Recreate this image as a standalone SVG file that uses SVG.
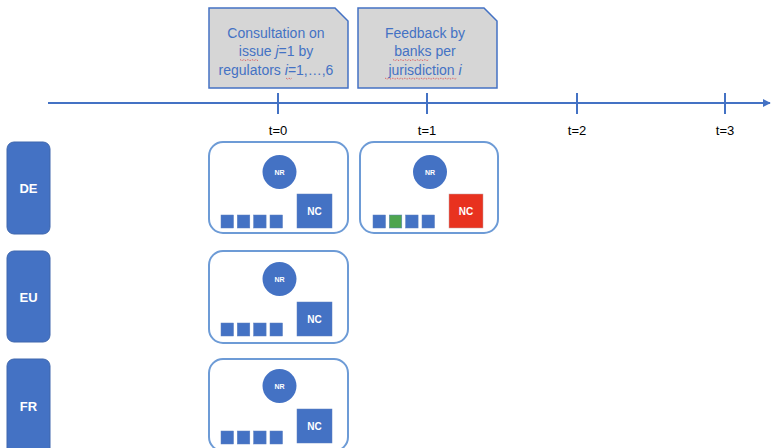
<svg xmlns="http://www.w3.org/2000/svg" width="771" height="448" viewBox="0 0 771 448">
  <style>
    .callout { fill: #d6d6d6; stroke: #4472c4; stroke-width: 1.5; }
    .callout-text { font-family: "Liberation Sans", Arial, sans-serif; font-size: 14px; fill: #4472c4; text-anchor: middle; }
    .tick { stroke: #4472c4; stroke-width: 2; }
    .tick-label { font-family: "Liberation Sans", Arial, sans-serif; font-size: 13px; fill: #000; text-anchor: middle; }
    .row { fill: #4472c4; stroke: #3f67ad; stroke-width: 1; }
    .row-label { font-family: "Liberation Sans", Arial, sans-serif; font-size: 13px; font-weight: bold; fill: #fff; text-anchor: middle; }
    .panel { fill: #fff; stroke: #6d9bd6; stroke-width: 2; }
    .nr { fill: #4472c4; }
    .nr-label { font-family: "Liberation Sans", Arial, sans-serif; font-size: 7px; font-weight: bold; fill: #fff; text-anchor: middle; }
    .nc { fill: #4472c4; stroke: #5b7fc0; stroke-width: 0.5; }
    .nc-red { fill: #e8321f; stroke: #c7a0a0; stroke-width: 0.5; }
    .nc-label { font-family: "Liberation Sans", Arial, sans-serif; font-size: 10px; font-weight: bold; fill: #fff; text-anchor: middle; }
    .bank { fill: #4472c4; stroke: #5b7fc0; stroke-width: 0.5; }
    .bank-green { fill: #4ea54f; stroke: #5b7fc0; stroke-width: 0.5; }
    .squiggle { fill: none; stroke: #e03030; stroke-width: 0.8; stroke-dasharray: 1 1; }
  </style>
  <defs>
    <marker id="arrow" viewBox="0 0 10 10" refX="9" refY="5" markerWidth="4" markerHeight="4" orient="auto">
      <path d="M0,0 L10,5 L0,10 z" fill="#4472c4"/>
    </marker>
    <g id="bankRow">
      <rect class="bank" x="0" y="0" width="12.5" height="13"/>
      <rect class="bank" x="16.3" y="0" width="12.5" height="13"/>
      <rect class="bank" x="32.6" y="0" width="12.5" height="13"/>
      <rect class="bank" x="49" y="0" width="12.5" height="13"/>
    </g>
  </defs>

  <!-- timeline -->
  <g id="connectors">
    <line x1="48" y1="103" x2="770" y2="103" stroke="#4472c4" stroke-width="2" marker-end="url(#arrow)"/>
    <line class="tick" x1="278" y1="93" x2="278" y2="114"/>
    <line class="tick" x1="427" y1="93" x2="427" y2="114"/>
    <line class="tick" x1="577" y1="93" x2="577" y2="114"/>
    <line class="tick" x1="725" y1="93" x2="725" y2="114"/>
  </g>
  <g id="tick-labels">
    <text class="tick-label" x="278" y="135">t=0</text>
    <text class="tick-label" x="427" y="135">t=1</text>
    <text class="tick-label" x="577" y="135">t=2</text>
    <text class="tick-label" x="725" y="135">t=3</text>
  </g>

  <!-- callouts -->
  <g id="callout-consultation">
    <path class="callout" d="M209,8 H335 L348,21 V88 H209 Z"/>
    <text class="callout-text" x="276" y="37.5">Consultation on</text>
    <text class="callout-text" x="276" y="56">issue <tspan font-style="italic">j</tspan>=1 by</text>
    <text class="callout-text" x="276" y="74.5">regulators <tspan font-style="italic">i</tspan>=1,…,6</text>
    <path class="squiggle" d="M240,59.5 l2,1.2 l2,-1.2 l2,1.2 l2,-1.2 l2,1.2 l2,-1.2 l2,1.2 l2,-1.2 l2,1.2"/>
    <path class="squiggle" d="M286,78 l1.5,1.2 l1.5,-1.2 l1.5,1.2 l1.5,-1.2"/>
  </g>
  <g id="callout-feedback">
    <path class="callout" d="M358,8 H484 L497,21 V88 H358 Z"/>
    <text class="callout-text" x="425" y="37.5">Feedback by</text>
    <text class="callout-text" x="425" y="56">banks per</text>
    <text class="callout-text" x="425" y="74.5">jurisdiction <tspan font-style="italic">i</tspan></text>
    <path class="squiggle" d="M393,59.5 l2,1.2 l2,-1.2 l2,1.2 l2,-1.2 l2,1.2 l2,-1.2 l2,1.2 l2,-1.2 l2,1.2 l2,-1.2 l2,1.2 l2,-1.2 l2,1.2 l2,-1.2 l2,1.2 l2,-1.2 l2,1.2 l2,-1.2"/>
    <path class="squiggle" d="M385,78 l2,1.2 l2,-1.2 l2,1.2 l2,-1.2 l2,1.2 l2,-1.2 l2,1.2 l2,-1.2 l2,1.2 l2,-1.2 l2,1.2 l2,-1.2 l2,1.2 l2,-1.2 l2,1.2 l2,-1.2 l2,1.2 l2,-1.2 l2,1.2 l2,-1.2 l2,1.2 l2,-1.2 l2,1.2 l2,-1.2 l2,1.2 l2,-1.2 l2,1.2 l2,-1.2 l2,1.2 l2,-1.2 l2,1.2 l2,-1.2 l2,1.2 l2,-1.2 l2,1.2 l2,-1.2"/>
  </g>

  <!-- jurisdictions -->
  <g id="row-DE">
    <rect class="row" x="7" y="142" width="43" height="92" rx="7"/>
    <text class="row-label" x="28.5" y="193">DE</text>
  </g>
  <g id="row-EU">
    <rect class="row" x="7" y="251" width="43" height="91" rx="7"/>
    <text class="row-label" x="28.5" y="302">EU</text>
  </g>
  <g id="row-FR">
    <rect class="row" x="7" y="359" width="43" height="100" rx="7"/>
    <text class="row-label" x="28.5" y="411">FR</text>
  </g>

  <!-- DE at t=0 -->
  <g id="panel-DE-t0">
    <rect class="panel" x="209" y="142" width="139" height="91" rx="14"/>
    <circle class="nr" cx="279.5" cy="172" r="17"/>
    <text class="nr-label" x="279.5" y="174.5">NR</text>
    <rect class="nc" x="297" y="194" width="35" height="34"/>
    <text class="nc-label" x="314.5" y="214.5">NC</text>
    <use href="#bankRow" x="221" y="215"/>
  </g>

  <!-- DE at t=1 -->
  <g id="panel-DE-t1">
    <rect class="panel" x="360" y="142" width="138" height="91" rx="14"/>
    <circle class="nr" cx="430" cy="172" r="17"/>
    <text class="nr-label" x="430" y="174.5">NR</text>
    <rect class="nc-red" x="449" y="194" width="34" height="34"/>
    <text class="nc-label" x="466" y="214.5">NC</text>
    <rect class="bank" x="373" y="215" width="12.5" height="13"/>
    <rect class="bank-green" x="389.3" y="215" width="12.5" height="13"/>
    <rect class="bank" x="405.6" y="215" width="12.5" height="13"/>
    <rect class="bank" x="422" y="215" width="12.5" height="13"/>
  </g>

  <!-- EU at t=0 -->
  <g id="panel-EU-t0">
    <rect class="panel" x="209" y="251" width="139" height="92" rx="14"/>
    <circle class="nr" cx="279.5" cy="279" r="17"/>
    <text class="nr-label" x="279.5" y="281.5">NR</text>
    <rect class="nc" x="297" y="302" width="35" height="34"/>
    <text class="nc-label" x="314.5" y="322.5">NC</text>
    <use href="#bankRow" x="221" y="323"/>
  </g>

  <!-- FR at t=0 -->
  <g id="panel-FR-t0">
    <rect class="panel" x="209" y="359" width="139" height="92" rx="14"/>
    <circle class="nr" cx="279.5" cy="386" r="17"/>
    <text class="nr-label" x="279.5" y="388.5">NR</text>
    <rect class="nc" x="297" y="409" width="35" height="34"/>
    <text class="nc-label" x="314.5" y="429.5">NC</text>
    <use href="#bankRow" x="221" y="431"/>
  </g>
</svg>
